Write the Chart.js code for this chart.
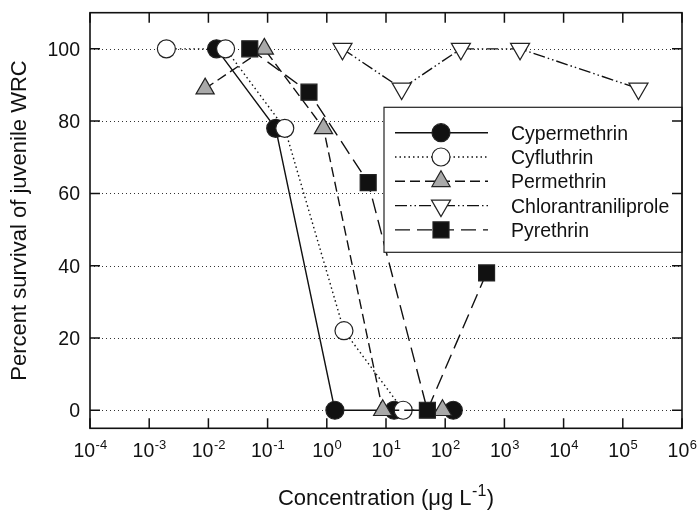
<!DOCTYPE html>
<html><head><meta charset="utf-8">
<script src="https://cdn.jsdelivr.net/npm/chart.js@4/dist/chart.umd.min.js"></script>
<style>html,body{margin:0;padding:0;background:#fff;}#wrap{width:699px;height:510px;}</style>
</head><body><div id="wrap"><canvas id="c" width="699" height="510"></canvas></div>
<script>
// ---- data ----
const seriesNames = ['Cypermethrin','Cyfluthrin','Permethrin','Chlorantraniliprole','Pyrethrin'];
const cypermethrinX = [0.0137, 0.137, 1.37, 13.7, 137];
const cypermethrinY = [100, 78, 0, 0, 0];
const cyfluthrinX = [0.00195, 0.0195, 0.195, 1.95, 19.5];
const cyfluthrinY = [100, 100, 78, 22, 0];
const permethrinX = [0.0088, 0.088, 0.88, 8.8, 90];
const permethrinY = [89, 100, 78, 0, 0];
const chlorantraniliproleX = [1.84, 18.4, 184, 1840, 184000];
const chlorantraniliproleY = [100, 89, 100, 100, 89];
const pyrethrinX = [0.05, 0.5, 5, 50, 500];
const pyrethrinY = [100, 88, 63, 0, 38];
const xTickExponents = [-4, -3, -2, -1, 0, 1, 2, 3, 4, 5, 6];
const yTickValues = [0, 20, 40, 60, 80, 100];
const xTitleMain = 'Concentration (\u03BCg L';
const xTitleSup = '-1';
const xTitleEnd = ')';
const yTitle = 'Percent survival of juvenile WRC';

const FONT = "'Liberation Sans', Arial, Helvetica, sans-serif";
const pts = (xs, ys) => xs.map((v, i) => ({x: v, y: ys[i]}));

const datasets = [
  {label: seriesNames[0], data: pts(cypermethrinX, cypermethrinY), borderDash: [],
   pointStyle: 'circle', pointRadius: 9, pointBackgroundColor: '#111', order: 5},
  {label: seriesNames[1], data: pts(cyfluthrinX, cyfluthrinY), borderDash: [1.5, 3],
   pointStyle: 'circle', pointRadius: 9, pointBackgroundColor: '#fff', order: 4},
  {label: seriesNames[2], data: pts(permethrinX, permethrinY), borderDash: [10, 5],
   pointStyle: 'triangle', pointRadius: 10.5, pointBackgroundColor: '#a9a9a9', order: 3},
  {label: seriesNames[3], data: pts(chlorantraniliproleX, chlorantraniliproleY), borderDash: [12, 3, 1.5, 3, 1.5, 3],
   pointStyle: 'triangle', pointRotation: 180, pointRadius: 11, pointBackgroundColor: '#fff', order: 2},
  {label: seriesNames[4], data: pts(pyrethrinX, pyrethrinY), borderDash: [15, 7],
   pointStyle: 'rect', pointRadius: 11.3, pointBackgroundColor: '#111', order: 1}
].map(d => Object.assign({
  borderColor: '#111', borderWidth: 1.4, pointBorderColor: '#222', pointBorderWidth: 1.2,
  pointRotation: 0, fill: false, tension: 0, pointHoverRadius: 9
}, d));

function drawMarker(ctx, ds, x, y) {
  const opts = {pointStyle: ds.pointStyle, radius: ds.pointRadius, rotation: ds.pointRotation || 0, borderWidth: ds.pointBorderWidth};
  ctx.save();
  ctx.setLineDash([]);
  ctx.fillStyle = ds.pointBackgroundColor;
  ctx.strokeStyle = ds.pointBorderColor;
  ctx.lineWidth = ds.pointBorderWidth;
  Chart.helpers.drawPoint(ctx, opts, x, y);
  ctx.restore();
}

const framePlugin = {
  id: 'frame',
  beforeDatasetsDraw(chart) {
    const {ctx, chartArea: a, scales: {y}} = chart;
    ctx.save();
    ctx.strokeStyle = '#333'; ctx.lineWidth = 1; ctx.setLineDash([1, 3]);
    yTickValues.forEach(v => {
      const py = Math.round(y.getPixelForValue(v)) + 0.5;
      ctx.beginPath(); ctx.moveTo(a.left, py); ctx.lineTo(a.right, py); ctx.stroke();
    });
    ctx.restore();
  },
  afterDatasetsDraw(chart) {
    const {ctx, chartArea: a, scales: {x, y}} = chart;
    ctx.save();
    // legend box
    const lw = 298, lh = 145;
    const lx = a.right - lw, ly = a.top + 94.6;
    ctx.fillStyle = '#fff';
    ctx.fillRect(lx, ly, lw, lh);
    ctx.strokeStyle = '#222'; ctx.lineWidth = 1.2; ctx.setLineDash([]);
    ctx.strokeRect(lx, ly, lw, lh);
    chart.data.datasets.forEach((ds, i) => {
      const ry = ly + 25.4 + i * 24.3;
      ctx.save();
      ctx.strokeStyle = ds.borderColor; ctx.lineWidth = ds.borderWidth;
      ctx.setLineDash(ds.borderDash);
      ctx.beginPath(); ctx.moveTo(lx + 11, ry); ctx.lineTo(lx + 104, ry); ctx.stroke();
      ctx.restore();
      drawMarker(ctx, ds, lx + 57, ry);
      ctx.fillStyle = '#111';
      ctx.font = '19.5px ' + FONT;
      ctx.textAlign = 'left'; ctx.textBaseline = 'alphabetic';
      ctx.fillText(ds.label, lx + 127, ry + 7);
    });
    // frame
    ctx.strokeStyle = '#111'; ctx.lineWidth = 1.6; ctx.setLineDash([]);
    ctx.strokeRect(a.left, a.top, a.right - a.left, a.bottom - a.top);
    // ticks inward
    ctx.lineWidth = 1.5;
    xTickExponents.forEach(e => {
      const px = x.getPixelForValue(Math.pow(10, e));
      ctx.beginPath();
      ctx.moveTo(px, a.bottom); ctx.lineTo(px, a.bottom - 10);
      ctx.moveTo(px, a.top); ctx.lineTo(px, a.top + 10);
      ctx.stroke();
    });
    yTickValues.forEach(v => {
      const py = y.getPixelForValue(v);
      ctx.beginPath();
      ctx.moveTo(a.left, py); ctx.lineTo(a.left + 10, py);
      ctx.moveTo(a.right, py); ctx.lineTo(a.right - 10, py);
      ctx.stroke();
    });
    // y tick labels
    ctx.fillStyle = '#111';
    ctx.font = '19.5px ' + FONT;
    ctx.textAlign = 'right'; ctx.textBaseline = 'alphabetic';
    yTickValues.forEach(v => {
      ctx.fillText(String(v), a.left - 10, y.getPixelForValue(v) + 7);
    });
    // x tick labels with superscripts
    ctx.textAlign = 'left';
    xTickExponents.forEach(e => {
      const px = x.getPixelForValue(Math.pow(10, e));
      ctx.font = '19.5px ' + FONT;
      const w1 = ctx.measureText('10').width;
      ctx.font = '13px ' + FONT;
      const sup = String(e);
      const w2 = ctx.measureText(sup).width;
      const sx = px - (w1 + w2) / 2;
      const base = a.bottom + 28.4;
      ctx.font = '19.5px ' + FONT;
      ctx.fillText('10', sx, base);
      ctx.font = '13px ' + FONT;
      ctx.fillText(sup, sx + w1 + 0.5, base - 7.4);
    });
    // x title
    const cx = (a.left + a.right) / 2;
    ctx.font = '22px ' + FONT;
    const m1 = ctx.measureText(xTitleMain).width;
    const m3 = ctx.measureText(xTitleEnd).width;
    ctx.font = '16px ' + FONT;
    const m2 = ctx.measureText(xTitleSup).width;
    const tx = cx - (m1 + m2 + m3 + 1) / 2;
    const tb = 505;
    ctx.font = '22px ' + FONT;
    ctx.fillText(xTitleMain, tx, tb);
    ctx.font = '16px ' + FONT;
    ctx.fillText(xTitleSup, tx + m1 + 0.5, tb - 9);
    ctx.font = '22px ' + FONT;
    ctx.fillText(xTitleEnd, tx + m1 + m2 + 1, tb);
    ctx.restore();
  }
};

new Chart(document.getElementById('c'), {
  type: 'line',
  data: {datasets},
  options: {
    responsive: false, animation: false, devicePixelRatio: 1,
    layout: {padding: {top: 12.7, right: 17, left: 0, bottom: 0}},
    plugins: {legend: {display: false}, tooltip: {enabled: false}},
    scales: {
      x: {type: 'logarithmic', min: 1e-4, max: 1e6,
          ticks: {display: false}, grid: {display: false}, border: {display: false},
          afterFit(s) { s.height = 81.7; }},
      y: {type: 'linear', min: -5, max: 110,
          ticks: {display: false}, grid: {display: false}, border: {display: false},
          title: {display: true, text: yTitle, color: '#111', font: {size: 22, family: FONT}, padding: {top: 7, bottom: 0}},
          afterFit(s) { s.width = 90; }}
    }
  },
  plugins: [framePlugin]
});
</script></body></html>
